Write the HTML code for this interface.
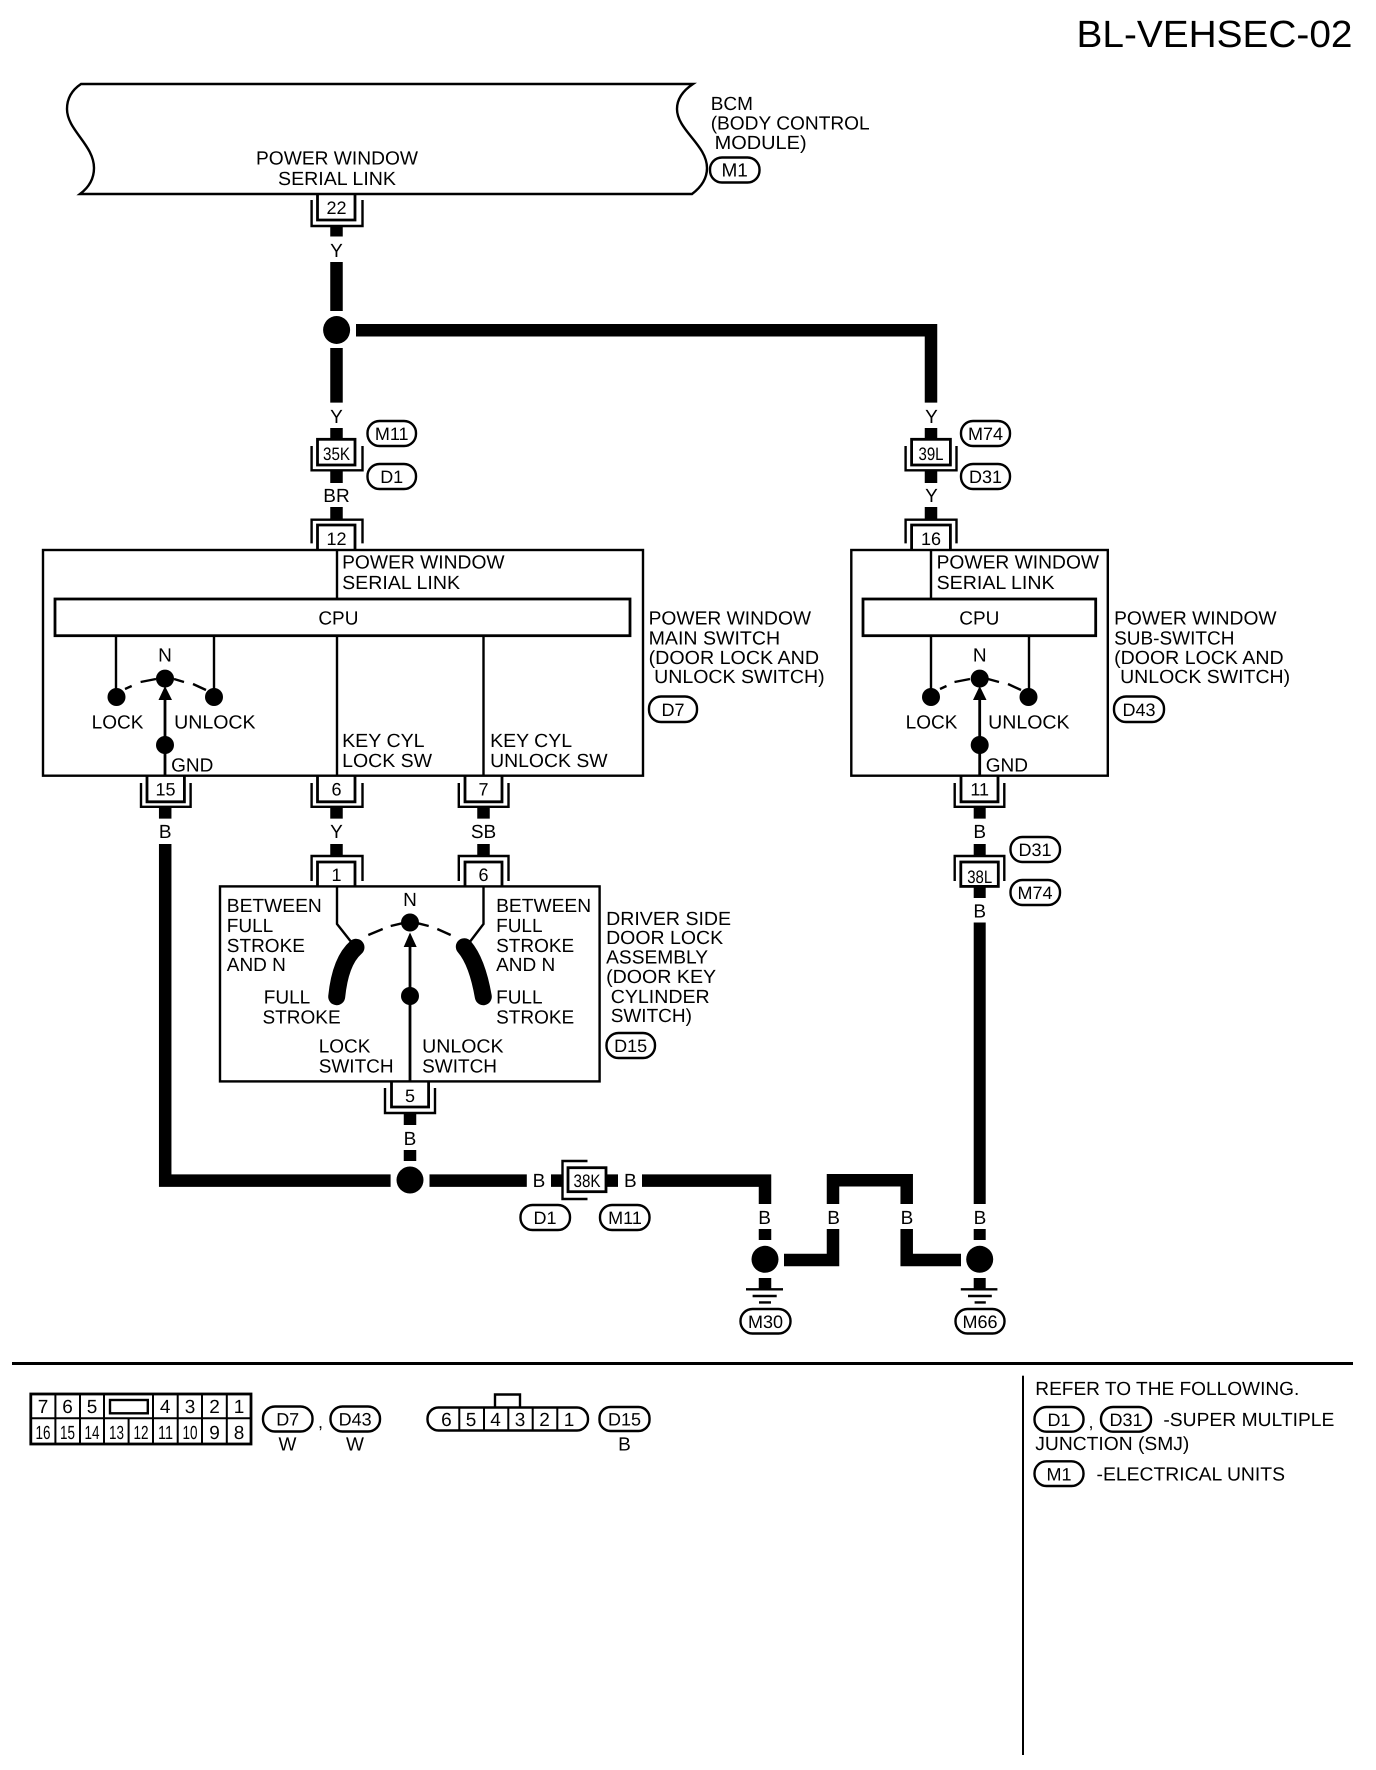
<!DOCTYPE html>
<html>
<head>
<meta charset="utf-8">
<style>
html,body{margin:0;padding:0;background:#fff;width:1376px;height:1770px;overflow:hidden}
svg{display:block}
text{font-family:"Liberation Sans",sans-serif;font-size:19px;fill:#000;text-rendering:geometricPrecision}
text:not(.m):not(.n){transform:translateX(-.9px)}
.m{text-anchor:middle}
.l{fill:none;stroke:#000;stroke-width:2.4}
.t{fill:none;stroke:#000;stroke-width:2.8}
.w{fill:none;stroke:#000;stroke-width:12.5;stroke-linejoin:miter}
.p{fill:#fff;stroke:#000;stroke-width:2.4}
.s{font-size:18px}
</style>
</head>
<body>
<svg xmlns="http://www.w3.org/2000/svg" width="1376" height="1770" viewBox="0 0 1376 1770">
<rect width="1376" height="1770" fill="#fff"/>

<text x="1076.5" y="47" class="n" style="font-size:38px" textLength="276" lengthAdjust="spacingAndGlyphs">BL-VEHSEC-02</text>

<!-- BCM -->
<path class="l" d="M81,84 C72,90 67,98 67,109 C67,130 94,145 94,168 C94,180 88,188 80,194 L692,194 C700,188 707,180 707,168 C707,145 677,130 677,109 C677,98 684,90 693,84 Z"/>
<text x="337" y="164.6" class="m" textLength="162" lengthAdjust="spacingAndGlyphs">POWER WINDOW</text>
<text x="337" y="184.8" class="m" textLength="118" lengthAdjust="spacingAndGlyphs">SERIAL LINK</text>
<text x="711.6" y="110">BCM</text>
<text x="711.6" y="129.5" textLength="159" lengthAdjust="spacingAndGlyphs">(BODY CONTROL</text>
<text x="715.5" y="149" textLength="92" lengthAdjust="spacingAndGlyphs">MODULE)</text>
<rect class="p" x="710" y="157.5" width="49.5" height="25" rx="12"/>
<text x="734.7" y="176.5" class="m">M1</text>

<!-- wires top -->
<path class="w" d="M336.5,226 V236.5 M336.5,262 V311 M336.5,348 V402.6 M336.5,428 V439 M336.5,470 V483 M336.5,507 V519"/>
<path class="w" d="M356,330.2 H931 V402.6 M931,428 V439 M931,470 V483 M931,507 V519"/>
<ellipse cx="336.6" cy="330" rx="13.5" ry="14"/>
<text x="336.5" y="257" class="m">Y</text>
<text x="336.5" y="423" class="m">Y</text>
<text x="336.5" y="502" class="m">BR</text>
<text x="931.5" y="423" class="m">Y</text>
<text x="931.5" y="502" class="m">Y</text>

<!-- connector 22 -->
<path class="t" d="M317.5,194 V220 H355 V194"/><path class="l" d="M311.6,200 V226 H362.5 V200"/>
<text x="336.5" y="214" class="m s">22</text>
<!-- 35K -->
<rect class="t" x="317.5" y="439.3" width="37.5" height="25.7"/>
<path class="l" d="M311.6,446 V470.3 H362.5 V446"/>
<text x="336.5" y="460" class="m s" textLength="27" lengthAdjust="spacingAndGlyphs">35K</text>
<!-- 12 -->
<path class="l" d="M311.6,543.4 V519.7 H362.5 V543.4"/><path class="t" d="M317.5,550 V525 H355 V550"/>
<text x="336.5" y="545" class="m s">12</text>
<!-- 39L -->
<rect class="t" x="911.6" y="439.3" width="38.8" height="25.7"/>
<path class="l" d="M905.6,446 V470.3 H956.5 V446"/>
<text x="931" y="460" class="m s" textLength="25" lengthAdjust="spacingAndGlyphs">39L</text>
<!-- 16 -->
<path class="l" d="M905.6,543.4 V519.7 H956.5 V543.4"/><path class="t" d="M911.6,550 V525 H950.4 V550"/>
<text x="931" y="545" class="m s">16</text>

<!-- pills -->
<rect class="p" x="367.5" y="421" width="48.5" height="25" rx="12"/><text x="391.7" y="440" class="m s">M11</text>
<rect class="p" x="367.5" y="464" width="48.5" height="25" rx="12"/><text x="391.7" y="483" class="m s">D1</text>
<rect class="p" x="961" y="421" width="49" height="25" rx="12"/><text x="985.5" y="440" class="m s">M74</text>
<rect class="p" x="961" y="464" width="49" height="25" rx="12"/><text x="985.5" y="483" class="m s">D31</text>

<!-- MAIN SWITCH BOX -->
<rect class="l" x="43" y="550" width="600" height="225.7"/>
<path class="l" d="M337,550 V599 M116,636 V690 M214,636 V690 M337,636 V776 M483.5,636 V776"/>
<rect x="55" y="599" width="575" height="36.7" fill="#fff" stroke="#000" stroke-width="2.8"/>
<text x="338.4" y="624.6" class="m">CPU</text>
<text x="343" y="568.6" textLength="162.5" lengthAdjust="spacingAndGlyphs">POWER WINDOW</text>
<text x="343" y="589" textLength="118" lengthAdjust="spacingAndGlyphs">SERIAL LINK</text>
<circle cx="116.5" cy="697" r="9"/><circle cx="214" cy="697" r="9"/><circle cx="165" cy="678.6" r="9"/><circle cx="165" cy="745" r="9"/>
<path d="M165,686 L172,700 H158.5 Z"/>
<path class="t" d="M165,698 V776"/>
<path class="l" d="M125,689 L131.7,686 M140.6,682 L156,679 M174,679 L184,682 M193,684 L206,690"/>
<text x="165" y="661.4" class="m">N</text>
<text x="117.5" y="728.6" class="m">LOCK</text>
<text x="175" y="728.6" textLength="81.5" lengthAdjust="spacingAndGlyphs">UNLOCK</text>
<text x="172" y="771.4">GND</text>
<text x="343" y="747" textLength="82.5" lengthAdjust="spacingAndGlyphs">KEY CYL</text>
<text x="343" y="766.8" textLength="90" lengthAdjust="spacingAndGlyphs">LOCK SW</text>
<text x="491" y="747" textLength="82" lengthAdjust="spacingAndGlyphs">KEY CYL</text>
<text x="491" y="766.8" textLength="117.5" lengthAdjust="spacingAndGlyphs">UNLOCK SW</text>
<text x="649.5" y="624.6" textLength="162.5" lengthAdjust="spacingAndGlyphs">POWER WINDOW</text>
<text x="649.5" y="644.3" textLength="131.5" lengthAdjust="spacingAndGlyphs">MAIN SWITCH</text>
<text x="649.5" y="664" textLength="170.5" lengthAdjust="spacingAndGlyphs">(DOOR LOCK AND</text>
<text x="655" y="683" textLength="170.5" lengthAdjust="spacingAndGlyphs">UNLOCK SWITCH)</text>
<rect class="p" x="649" y="696.5" width="48" height="25.5" rx="12"/><text x="673" y="716" class="m s">D7</text>

<!-- bottom connectors main -->
<path class="t" d="M147,776 V801.8 H184.4 V776"/><path class="l" d="M141,783 V806.8 H190.6 V783"/>
<text x="165.5" y="795.4" class="m s">15</text>
<path class="t" d="M317.5,776 V801.8 H355 V776"/><path class="l" d="M311.6,783 V806.8 H362.5 V783"/>
<text x="336.5" y="795.4" class="m s">6</text>
<path class="t" d="M465,776 V801.8 H502 V776"/><path class="l" d="M458.8,783 V806.8 H508.5 V783"/>
<text x="483.5" y="795.4" class="m s">7</text>
<path class="w" style="stroke-width:12.5" d="M165.2,806.8 V818.6 M336.5,806.8 V818.6 M483.5,806.8 V818.6 M336.5,844 V856 M483.5,844 V856"/>
<text x="165.2" y="838" class="m">B</text>
<text x="336.5" y="838" class="m">Y</text>
<text x="483.5" y="838" class="m">SB</text>

<!-- RIGHT BOX -->
<rect class="l" x="851.3" y="550" width="256.5" height="225.7"/>
<path class="l" d="M931,550 V599 M931,636 V690 M1029,636 V690"/>
<rect x="863" y="599" width="232.7" height="36.7" fill="#fff" stroke="#000" stroke-width="2.8"/>
<text x="979.3" y="624.6" class="m">CPU</text>
<text x="937.5" y="568.6" textLength="162.5" lengthAdjust="spacingAndGlyphs">POWER WINDOW</text>
<text x="937.5" y="589" textLength="118" lengthAdjust="spacingAndGlyphs">SERIAL LINK</text>
<circle cx="931" cy="697" r="9"/><circle cx="1028.5" cy="697" r="9"/><circle cx="979.7" cy="678.6" r="9"/><circle cx="979.7" cy="745" r="9"/>
<path d="M979.7,686 L986.5,700 H973 Z"/>
<path class="t" d="M979.7,698 V776"/>
<path class="l" d="M940,689 L946.5,686 M954.5,682 L970,679 M988,679 L999,682 M1008,684 L1021,690"/>
<text x="979.7" y="661.4" class="m">N</text>
<text x="931.5" y="728.6" class="m">LOCK</text>
<text x="989" y="728.6" textLength="81.5" lengthAdjust="spacingAndGlyphs">UNLOCK</text>
<text x="986.6" y="771.4">GND</text>
<text x="1115" y="624.6" textLength="162.5" lengthAdjust="spacingAndGlyphs">POWER WINDOW</text>
<text x="1115" y="644.3">SUB-SWITCH</text>
<text x="1115" y="664" textLength="169.5" lengthAdjust="spacingAndGlyphs">(DOOR LOCK AND</text>
<text x="1121" y="683" textLength="170" lengthAdjust="spacingAndGlyphs">UNLOCK SWITCH)</text>
<rect class="p" x="1114" y="696.5" width="50" height="25.5" rx="12"/><text x="1139" y="716" class="m s">D43</text>

<!-- connector 11, 38L -->
<path class="t" d="M961,776 V801.8 H998 V776"/><path class="l" d="M954.7,783 V806.8 H1004.3 V783"/>
<text x="979.7" y="795.4" class="m s">11</text>
<path class="w" style="stroke-width:12" d="M979.7,806.8 V818.6 M979.7,844 V856 M979.7,886 V898 M979.7,922.5 V1204 M979.7,1229 V1240 M979.7,1278 V1289"/>
<text x="979.7" y="838" class="m">B</text>
<path class="l" d="M954.7,881 V856 H1004.3 V881"/>
<rect class="t" x="960.8" y="862" width="37.5" height="24.4"/>
<text x="979.7" y="883" class="m s" textLength="25" lengthAdjust="spacingAndGlyphs">38L</text>
<text x="979.7" y="917.5" class="m">B</text>
<rect class="p" x="1010.5" y="837" width="49.5" height="25" rx="12"/><text x="1035" y="856" class="m s">D31</text>
<rect class="p" x="1010.5" y="880" width="49.5" height="25" rx="12"/><text x="1035" y="899" class="m s">M74</text>

<!-- DOOR LOCK BOX -->
<rect class="l" x="220" y="886.4" width="379.6" height="195"/>
<path class="l" d="M311.6,881 V856 H362.5 V881"/><path class="t" d="M317.5,886.4 V862 H355 V886.4"/>
<text x="336.5" y="881" class="m s">1</text>
<path class="l" d="M458.8,881 V856 H508.5 V881"/><path class="t" d="M465,886.4 V862 H502 V886.4"/>
<text x="483.5" y="881" class="m s">6</text>
<path class="l" d="M337,886.4 V924 L352,943 M483.5,886.4 V924 L469,943"/>
<path fill="none" stroke="#000" stroke-width="17" stroke-linecap="round" d="M356,947.3 Q340.3,961 336.7,996.7"/>
<path fill="none" stroke="#000" stroke-width="17" stroke-linecap="round" d="M464.3,946.7 Q477.2,961.7 483.3,996.7"/>
<path class="l" d="M368.3,935 L382.7,929 M390.7,926 L402,923.3 M418,923.3 L428.7,926 M437.3,929 L450.7,935"/>
<circle cx="410" cy="922.5" r="9"/><circle cx="410" cy="996" r="9"/>
<path d="M410,932.5 L416.7,947 H403.7 Z"/>
<path class="t" d="M410,945 V1081"/>
<text x="410" y="906" class="m">N</text>
<text x="227.7" y="912" textLength="95" lengthAdjust="spacingAndGlyphs">BETWEEN</text><text x="227.7" y="931.8">FULL</text><text x="227.7" y="951.8">STROKE</text><text x="227.7" y="971">AND N</text>
<text x="497" y="912" textLength="95" lengthAdjust="spacingAndGlyphs">BETWEEN</text><text x="497" y="931.8">FULL</text><text x="497" y="951.8">STROKE</text><text x="497" y="971">AND N</text>
<text x="264.7" y="1003.6">FULL</text><text x="263.4" y="1023.6">STROKE</text>
<text x="497" y="1003.6">FULL</text><text x="497" y="1023.6">STROKE</text>
<text x="319.6" y="1052.5">LOCK</text><text x="319.6" y="1072.5">SWITCH</text>
<text x="423" y="1052.5" textLength="81.5" lengthAdjust="spacingAndGlyphs">UNLOCK</text><text x="423" y="1072.5">SWITCH</text>
<text x="607" y="925" textLength="125" lengthAdjust="spacingAndGlyphs">DRIVER SIDE</text><text x="607" y="944" textLength="117" lengthAdjust="spacingAndGlyphs">DOOR LOCK</text><text x="607" y="963.6" textLength="102" lengthAdjust="spacingAndGlyphs">ASSEMBLY</text><text x="607" y="983" textLength="110" lengthAdjust="spacingAndGlyphs">(DOOR KEY</text><text x="611.6" y="1003" textLength="99" lengthAdjust="spacingAndGlyphs">CYLINDER</text><text x="611.6" y="1022">SWITCH)</text>
<rect class="p" x="606.5" y="1033" width="48.5" height="25" rx="12"/><text x="630.7" y="1052" class="m s">D15</text>

<!-- connector 5 -->
<path class="t" d="M391.5,1081 V1107 H428.6 V1081"/><path class="l" d="M385,1088 V1113 H435 V1088"/>
<text x="410" y="1102" class="m s">5</text>
<path class="w" style="stroke-width:12.5" d="M410,1113 V1125 M410,1150 V1161"/>
<text x="410" y="1145" class="m">B</text>
<ellipse cx="410" cy="1180" rx="13.5" ry="13.5"/>

<!-- ground bus -->
<path class="w" d="M165.2,844 V1180.6 H390.6 M429.5,1180.6 H526.8 M551,1180.6 H562 M606,1180.6 H618 M642,1180.6 H765 V1204 M765,1229 V1240 M765,1278 V1289"/>
<text x="539" y="1187" class="m">B</text>
<text x="630.4" y="1187" class="m">B</text>
<rect class="t" x="568" y="1167.7" width="38" height="24"/>
<path class="l" d="M587.5,1161 H562.5 V1199 H587.5"/>
<text x="587" y="1187" class="m s" textLength="27" lengthAdjust="spacingAndGlyphs">38K</text>
<rect class="p" x="520.5" y="1205" width="49.5" height="25" rx="12"/><text x="545" y="1224" class="m s">D1</text>
<rect class="p" x="600" y="1205" width="49.5" height="25" rx="12"/><text x="625" y="1224" class="m s">M11</text>

<path class="w" d="M784,1260 H833 V1229 M833,1204 V1180.3 H906.7 V1204 M906.7,1229 V1260 H961"/>
<text x="764.6" y="1224" class="m">B</text>
<text x="833.6" y="1224" class="m">B</text>
<text x="907" y="1224" class="m">B</text>
<text x="980" y="1224" class="m">B</text>
<ellipse cx="765" cy="1259.3" rx="13.5" ry="13.5"/>
<ellipse cx="979.7" cy="1259.3" rx="13.5" ry="13.5"/>
<path class="l" d="M746,1289.3 H783 M752.6,1296 H776.7 M759,1302.4 H771 M960.8,1289.3 H997.4 M968,1296 H991.8 M974.6,1302.4 H985.8"/>
<rect class="p" x="740.5" y="1309" width="50" height="24.5" rx="12"/><text x="765.5" y="1328" class="m s">M30</text>
<rect class="p" x="955.5" y="1309" width="49" height="24.5" rx="12"/><text x="980" y="1328" class="m s">M66</text>

<!-- bottom separators -->
<rect x="12" y="1362" width="1341" height="3"/>
<rect x="1022" y="1375.7" width="2" height="379.3"/>

<!-- connector table -->
<rect x="30.8" y="1394" width="220.2" height="50" fill="none" stroke="#000" stroke-width="2.8"/>
<path class="l" style="stroke-width:2" d="M30.8,1418.3 H251 M55.4,1394 V1444 M80,1394 V1444 M104,1394 V1444 M153,1394 V1444 M177.7,1394 V1444 M202,1394 V1444 M226.8,1394 V1444 M128.6,1418.3 V1444"/>
<rect x="110" y="1400" width="37.8" height="13.3" fill="none" stroke="#000" stroke-width="2.4"/>
<text x="43" y="1413" class="m">7</text><text x="67.5" y="1413" class="m">6</text><text x="92" y="1413" class="m">5</text><text x="165.2" y="1413" class="m">4</text><text x="190" y="1413" class="m">3</text><text x="214.5" y="1413" class="m">2</text><text x="239" y="1413" class="m">1</text>
<text x="43" y="1439" class="m" textLength="15" lengthAdjust="spacingAndGlyphs">16</text>
<text x="67.5" y="1439" class="m" textLength="15" lengthAdjust="spacingAndGlyphs">15</text>
<text x="92" y="1439" class="m" textLength="15" lengthAdjust="spacingAndGlyphs">14</text>
<text x="116.5" y="1439" class="m" textLength="15" lengthAdjust="spacingAndGlyphs">13</text>
<text x="141" y="1439" class="m" textLength="15" lengthAdjust="spacingAndGlyphs">12</text>
<text x="165.5" y="1439" class="m" textLength="15" lengthAdjust="spacingAndGlyphs">11</text>
<text x="190" y="1439" class="m" textLength="15" lengthAdjust="spacingAndGlyphs">10</text>
<text x="214.5" y="1439" class="m">9</text>
<text x="239" y="1439" class="m">8</text>
<rect class="p" x="263" y="1406.5" width="49.5" height="25" rx="12"/><text x="287.7" y="1425.5" class="m s">D7</text>
<text x="320.5" y="1428" class="m s">,</text>
<rect class="p" x="330.5" y="1406.5" width="49.5" height="25" rx="12"/><text x="355.2" y="1425.5" class="m s">D43</text>
<text x="287.5" y="1450.7" class="m">W</text>
<text x="355" y="1450.7" class="m">W</text>

<!-- connector 6-1 -->
<path class="l" d="M495,1407 V1394.5 H520 V1407"/>
<rect class="l" x="427.5" y="1407.5" width="160.5" height="23" rx="11"/>
<path class="l" style="stroke-width:2" d="M459.3,1407.5 V1430.5 M484,1407.5 V1430.5 M508.3,1407.5 V1430.5 M532.7,1407.5 V1430.5 M557.3,1407.5 V1430.5"/>
<text x="446.4" y="1426" class="m">6</text><text x="471" y="1426" class="m">5</text><text x="495.5" y="1426" class="m">4</text><text x="520" y="1426" class="m">3</text><text x="544.6" y="1426" class="m">2</text><text x="569" y="1426" class="m">1</text>
<rect class="p" x="599.5" y="1407" width="50" height="24" rx="11"/><text x="624.5" y="1425.5" class="m s">D15</text>
<text x="624.5" y="1450.7" class="m">B</text>

<!-- notes -->
<text x="1035.3" y="1395" class="n" textLength="264" lengthAdjust="spacingAndGlyphs">REFER TO THE FOLLOWING.</text>
<rect class="p" x="1034.5" y="1407" width="49" height="24.7" rx="12"/><text x="1059" y="1426" class="m s">D1</text>
<text x="1091" y="1428" class="m s">,</text>
<rect class="p" x="1101" y="1407" width="50" height="24.7" rx="12"/><text x="1126" y="1426" class="m s">D31</text>
<text x="1163.4" y="1426" class="n" textLength="171" lengthAdjust="spacingAndGlyphs">-SUPER MULTIPLE</text>
<text x="1035.3" y="1450" class="n" textLength="154" lengthAdjust="spacingAndGlyphs">JUNCTION (SMJ)</text>
<rect class="p" x="1034.5" y="1461.3" width="49" height="24.7" rx="12"/><text x="1059" y="1480.5" class="m s">M1</text>
<text x="1096.5" y="1480.7" class="n" textLength="188.5" lengthAdjust="spacingAndGlyphs">-ELECTRICAL UNITS</text>
</svg>
</body>
</html>
